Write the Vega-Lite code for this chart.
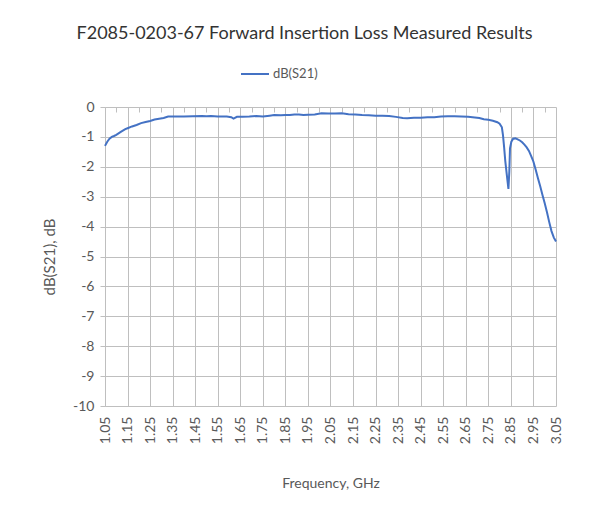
{
  "$schema": "https://vega.github.io/schema/vega-lite/v6.json",
  "width": 451,
  "height": 299,
  "autosize": {"type": "none"},
  "padding": {"left": 105, "top": 107, "right": 59, "bottom": 108},
  "background": "white",
  "title": {
    "text": "F2085-0203-67 Forward Insertion  Loss Measured  Results",
    "font": "Lato",
    "fontSize": 18,
    "fontWeight": "normal",
    "color": "#333333",
    "anchor": "middle",
    "frame": "group",
    "dx": -26,
    "offset": 16
  },
  "data": {
    "values": [
      {"f": 1.05, "db": -1.30, "s": "dB(S21)"},
      {"f": 1.06, "db": -1.16, "s": "dB(S21)"},
      {"f": 1.07, "db": -1.06, "s": "dB(S21)"},
      {"f": 1.08, "db": -1.00, "s": "dB(S21)"},
      {"f": 1.09, "db": -0.97, "s": "dB(S21)"},
      {"f": 1.10, "db": -0.93, "s": "dB(S21)"},
      {"f": 1.12, "db": -0.83, "s": "dB(S21)"},
      {"f": 1.14, "db": -0.74, "s": "dB(S21)"},
      {"f": 1.15, "db": -0.71, "s": "dB(S21)"},
      {"f": 1.17, "db": -0.65, "s": "dB(S21)"},
      {"f": 1.19, "db": -0.60, "s": "dB(S21)"},
      {"f": 1.21, "db": -0.54, "s": "dB(S21)"},
      {"f": 1.23, "db": -0.50, "s": "dB(S21)"},
      {"f": 1.25, "db": -0.47, "s": "dB(S21)"},
      {"f": 1.27, "db": -0.42, "s": "dB(S21)"},
      {"f": 1.29, "db": -0.39, "s": "dB(S21)"},
      {"f": 1.31, "db": -0.37, "s": "dB(S21)"},
      {"f": 1.33, "db": -0.32, "s": "dB(S21)"},
      {"f": 1.36, "db": -0.32, "s": "dB(S21)"},
      {"f": 1.40, "db": -0.32, "s": "dB(S21)"},
      {"f": 1.44, "db": -0.31, "s": "dB(S21)"},
      {"f": 1.48, "db": -0.30, "s": "dB(S21)"},
      {"f": 1.50, "db": -0.31, "s": "dB(S21)"},
      {"f": 1.52, "db": -0.30, "s": "dB(S21)"},
      {"f": 1.55, "db": -0.32, "s": "dB(S21)"},
      {"f": 1.59, "db": -0.32, "s": "dB(S21)"},
      {"f": 1.61, "db": -0.34, "s": "dB(S21)"},
      {"f": 1.62, "db": -0.39, "s": "dB(S21)"},
      {"f": 1.635, "db": -0.33, "s": "dB(S21)"},
      {"f": 1.66, "db": -0.33, "s": "dB(S21)"},
      {"f": 1.69, "db": -0.32, "s": "dB(S21)"},
      {"f": 1.72, "db": -0.30, "s": "dB(S21)"},
      {"f": 1.75, "db": -0.32, "s": "dB(S21)"},
      {"f": 1.78, "db": -0.29, "s": "dB(S21)"},
      {"f": 1.80, "db": -0.27, "s": "dB(S21)"},
      {"f": 1.83, "db": -0.28, "s": "dB(S21)"},
      {"f": 1.85, "db": -0.27, "s": "dB(S21)"},
      {"f": 1.87, "db": -0.27, "s": "dB(S21)"},
      {"f": 1.89, "db": -0.25, "s": "dB(S21)"},
      {"f": 1.91, "db": -0.25, "s": "dB(S21)"},
      {"f": 1.93, "db": -0.27, "s": "dB(S21)"},
      {"f": 1.95, "db": -0.26, "s": "dB(S21)"},
      {"f": 1.98, "db": -0.25, "s": "dB(S21)"},
      {"f": 2.01, "db": -0.21, "s": "dB(S21)"},
      {"f": 2.04, "db": -0.22, "s": "dB(S21)"},
      {"f": 2.07, "db": -0.22, "s": "dB(S21)"},
      {"f": 2.10, "db": -0.21, "s": "dB(S21)"},
      {"f": 2.13, "db": -0.24, "s": "dB(S21)"},
      {"f": 2.16, "db": -0.25, "s": "dB(S21)"},
      {"f": 2.19, "db": -0.27, "s": "dB(S21)"},
      {"f": 2.22, "db": -0.28, "s": "dB(S21)"},
      {"f": 2.25, "db": -0.29, "s": "dB(S21)"},
      {"f": 2.28, "db": -0.29, "s": "dB(S21)"},
      {"f": 2.31, "db": -0.30, "s": "dB(S21)"},
      {"f": 2.34, "db": -0.33, "s": "dB(S21)"},
      {"f": 2.37, "db": -0.37, "s": "dB(S21)"},
      {"f": 2.39, "db": -0.38, "s": "dB(S21)"},
      {"f": 2.42, "db": -0.36, "s": "dB(S21)"},
      {"f": 2.45, "db": -0.36, "s": "dB(S21)"},
      {"f": 2.48, "db": -0.34, "s": "dB(S21)"},
      {"f": 2.51, "db": -0.34, "s": "dB(S21)"},
      {"f": 2.54, "db": -0.32, "s": "dB(S21)"},
      {"f": 2.57, "db": -0.31, "s": "dB(S21)"},
      {"f": 2.60, "db": -0.31, "s": "dB(S21)"},
      {"f": 2.63, "db": -0.32, "s": "dB(S21)"},
      {"f": 2.66, "db": -0.33, "s": "dB(S21)"},
      {"f": 2.69, "db": -0.35, "s": "dB(S21)"},
      {"f": 2.71, "db": -0.37, "s": "dB(S21)"},
      {"f": 2.73, "db": -0.41, "s": "dB(S21)"},
      {"f": 2.75, "db": -0.43, "s": "dB(S21)"},
      {"f": 2.77, "db": -0.46, "s": "dB(S21)"},
      {"f": 2.79, "db": -0.51, "s": "dB(S21)"},
      {"f": 2.80, "db": -0.56, "s": "dB(S21)"},
      {"f": 2.81, "db": -0.68, "s": "dB(S21)"},
      {"f": 2.815, "db": -0.95, "s": "dB(S21)"},
      {"f": 2.82, "db": -1.35, "s": "dB(S21)"},
      {"f": 2.825, "db": -1.80, "s": "dB(S21)"},
      {"f": 2.832, "db": -2.28, "s": "dB(S21)"},
      {"f": 2.839, "db": -2.74, "s": "dB(S21)"},
      {"f": 2.843, "db": -2.16, "s": "dB(S21)"},
      {"f": 2.846, "db": -1.38, "s": "dB(S21)"},
      {"f": 2.852, "db": -1.16, "s": "dB(S21)"},
      {"f": 2.86, "db": -1.06, "s": "dB(S21)"},
      {"f": 2.87, "db": -1.05, "s": "dB(S21)"},
      {"f": 2.88, "db": -1.08, "s": "dB(S21)"},
      {"f": 2.89, "db": -1.12, "s": "dB(S21)"},
      {"f": 2.90, "db": -1.18, "s": "dB(S21)"},
      {"f": 2.91, "db": -1.26, "s": "dB(S21)"},
      {"f": 2.92, "db": -1.35, "s": "dB(S21)"},
      {"f": 2.93, "db": -1.47, "s": "dB(S21)"},
      {"f": 2.94, "db": -1.64, "s": "dB(S21)"},
      {"f": 2.95, "db": -1.83, "s": "dB(S21)"},
      {"f": 2.96, "db": -2.10, "s": "dB(S21)"},
      {"f": 2.97, "db": -2.38, "s": "dB(S21)"},
      {"f": 2.98, "db": -2.65, "s": "dB(S21)"},
      {"f": 2.99, "db": -2.94, "s": "dB(S21)"},
      {"f": 3.00, "db": -3.22, "s": "dB(S21)"},
      {"f": 3.01, "db": -3.52, "s": "dB(S21)"},
      {"f": 3.02, "db": -3.85, "s": "dB(S21)"},
      {"f": 3.03, "db": -4.15, "s": "dB(S21)"},
      {"f": 3.04, "db": -4.36, "s": "dB(S21)"},
      {"f": 3.05, "db": -4.50, "s": "dB(S21)"}
    ]
  },
  "layer": [
    {
      "mark": {"type": "rule", "strokeOpacity": 0, "opacity": 0},
      "encoding": {
        "x": {"field": "f", "type": "quantitative", "scale": {"domain": [1.05, 3.05], "nice": false, "zero": false},
          "axis": {
            "orient": "top",
            "values": [1.1,1.2,1.3,1.4,1.5,1.6,1.7,1.8,1.9,2.0,2.1,2.2,2.3,2.4,2.5,2.6,2.7,2.8,2.9,3.0],
            "labels": false,
            "grid": false,
            "domain": false,
            "ticks": true,
            "tickSize": -5,
            "tickColor": "#bfbfbf",
            "title": null
          }
        }
      }
    },
    {
      "mark": {"type": "line", "strokeWidth": 2, "interpolate": "linear"},
      "encoding": {
        "x": {
          "field": "f", "type": "quantitative",
          "scale": {"domain": [1.05, 3.05], "nice": false, "zero": false},
          "axis": {
            "orient": "bottom",
            "values": [1.05,1.15,1.25,1.35,1.45,1.55,1.65,1.75,1.85,1.95,2.05,2.15,2.25,2.35,2.45,2.55,2.65,2.75,2.85,2.95,3.05],
            "format": ".2f",
            "labelAngle": -90,
            "labelFont": "Lato",
            "labelFontSize": 14,
            "labelColor": "#595959",
            "labelPadding": 10,
            "labelFlush": false,
            "labelOverlap": false,
            "ticks": false,
            "domain": false,
            "grid": true,
            "gridColor": "#bfbfbf",
            "title": "Frequency, GHz",
            "titleFont": "Lato",
            "titleFontSize": 14,
            "titleFontWeight": "normal",
            "titleColor": "#595959",
            "titlePadding": 33
          }
        },
        "y": {
          "field": "db", "type": "quantitative",
          "scale": {"domain": [-10, 0], "nice": false},
          "axis": {
            "values": [0,-1,-2,-3,-4,-5,-6,-7,-8,-9,-10],
            "labelExpr": "'' + datum.value",
            "labelFont": "Lato",
            "labelFontSize": 14,
            "labelColor": "#595959",
            "labelPadding": 6,
            "tickSize": 5,
            "tickColor": "#bfbfbf",
            "domain": true,
            "domainColor": "#bfbfbf",
            "grid": true,
            "gridColor": "#bfbfbf",
            "title": "dB(S21), dB",
            "titleFont": "Lato",
            "titleFontSize": 15,
            "titleFontWeight": "normal",
            "titleColor": "#595959",
            "titlePadding": 15
          }
        },
        "color": {
          "field": "s", "type": "nominal",
          "scale": {"range": ["#4472C4"]},
          "legend": {
            "title": null,
            "orient": "none",
            "legendX": 135,
            "legendY": -48,
            "direction": "horizontal",
            "symbolType": "stroke",
            "symbolSize": 784,
            "symbolStrokeWidth": 2,
            "labelFont": "Lato",
            "labelFontSize": 13,
            "labelColor": "#595959",
            "labelOffset": 3
          }
        }
      }
    }
  ],
  "config": {"view": {"stroke": null}}
}
